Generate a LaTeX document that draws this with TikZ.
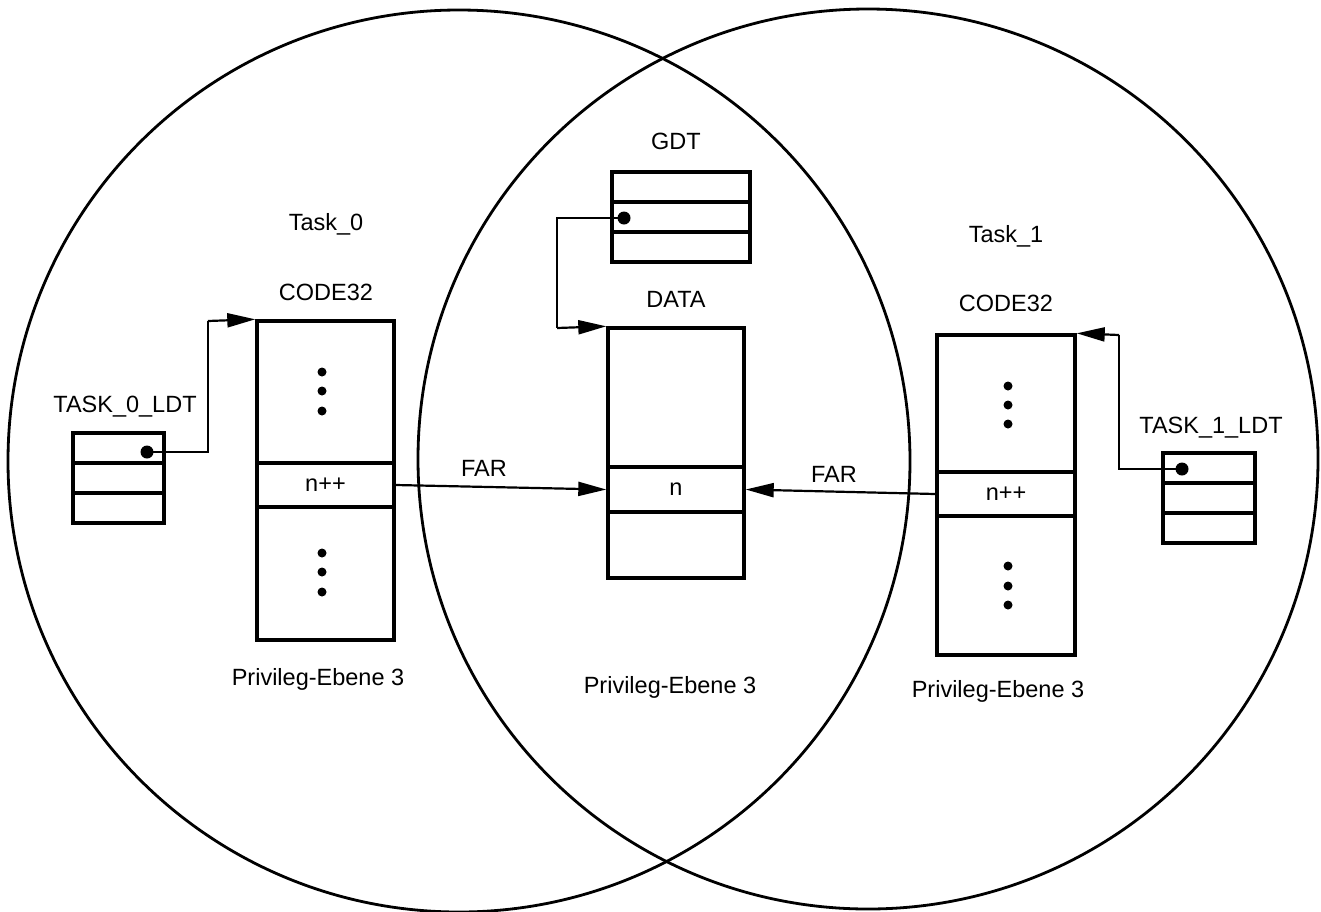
\documentclass[tikz,border=0pt]{standalone}
\usepackage{fontspec}
\setmainfont{Liberation Sans}
\usetikzlibrary{arrows.meta}

\begin{document}
\begin{tikzpicture}[x=1pt,y=-1pt,
  every node/.style={font=\fontsize{23.5}{27}\selectfont},
  ring/.style={draw, line width=2.8pt},
  frame/.style={draw, line width=3.4pt, inner sep=0pt},
  row/.style={frame, minimum height=30pt},
  lbl/.style={inner sep=0pt},
  bigdot/.style={circle, fill, inner sep=0pt, minimum size=13pt},
  link/.style={line width=2.2pt, -{Triangle[length=28pt,width=14pt]}},
  wire/.style={line width=2.2pt}
]
\useasboundingbox (0,0) rectangle (1321,911);

% the two overlapping domains
\draw[ring] (459,461) circle[radius=451];
\draw[ring] (868,459) circle[radius=450];

% ---- Task_0 ----
\node[lbl] (task0) at (326,224) {Task\_0};
\node[lbl] (code0lbl) at (326,292) {CODE32};
\node[frame, minimum width=137pt, minimum height=319pt] (code0) at (325.5,480.5) {};
\node[frame, minimum width=137pt, minimum height=44pt] (cell0) at (325.5,485) {n++};
\foreach \y in {372,391,411,553,572,592} \fill (322,\y) circle[radius=4.5];
\node[lbl] (priv0) at (318,679) {Privileg-Ebene 3};

\node[lbl] (ldt0lbl) at (125,407) {TASK\_0\_LDT};
\node[row, minimum width=91pt] (l0a) at (118.5,448) {};
\node[row, minimum width=91pt] (l0b) at (118.5,478) {};
\node[row, minimum width=91pt] (l0c) at (118.5,508) {};
\node[bigdot] (d0) at (147,452) {};
\coordinate (b0) at (208,321);
\draw[wire] (d0.center) -| (b0);
\draw[link] (b0) -- (code0.north west);

% ---- shared segments ----
\node[lbl] (gdtlbl) at (676,141) {GDT};
\node[row, minimum width=138pt] (g1) at (681,187) {};
\node[row, minimum width=138pt] (g2) at (681,217) {};
\node[row, minimum width=138pt] (g3) at (681,247) {};
\node[bigdot] (dg) at (624,218) {};

\node[lbl] (datalbl) at (676,299) {DATA};
\node[frame, minimum width=136pt, minimum height=250pt] (data) at (676,453) {};
\node[frame, minimum width=136pt, minimum height=45pt] (celld) at (676,489.5) {n};
\node[lbl] (privd) at (670,687) {Privileg-Ebene 3};

\coordinate (bg) at (557,328);
\draw[wire] (dg.center) -| (bg);
\draw[link] (bg) -- (data.north west);

% ---- Task_1 ----
\node[lbl] (task1) at (1006,236) {Task\_1};
\node[lbl] (code1lbl) at (1006,303) {CODE32};
\node[frame, minimum width=138pt, minimum height=320pt] (code1) at (1006,495) {};
\node[frame, minimum width=138pt, minimum height=44pt] (cell1) at (1006,494) {n++};
\foreach \y in {386,405,424,566,586,605} \fill (1008,\y) circle[radius=4.5];
\node[lbl] (priv1) at (998,691) {Privileg-Ebene 3};

\node[lbl] (ldt1lbl) at (1211,428) {TASK\_1\_LDT};
\node[row, minimum width=92pt] (l1a) at (1209,468) {};
\node[row, minimum width=92pt] (l1b) at (1209,498) {};
\node[row, minimum width=92pt] (l1c) at (1209,528) {};
\node[bigdot] (d1) at (1182,469) {};
\coordinate (b1) at (1119,335);
\draw[wire] (d1.center) -| (b1);
\draw[link] (b1) -- (code1.north east);

% ---- far calls into the shared data segment ----
\draw[link] (cell0.east) -- (celld.west);
\draw[link] (cell1.west) -- (celld.east);
\node[lbl] (far0) at (484,468) {FAR};
\node[lbl] (far1) at (834,474) {FAR};
\end{tikzpicture}
\end{document}
